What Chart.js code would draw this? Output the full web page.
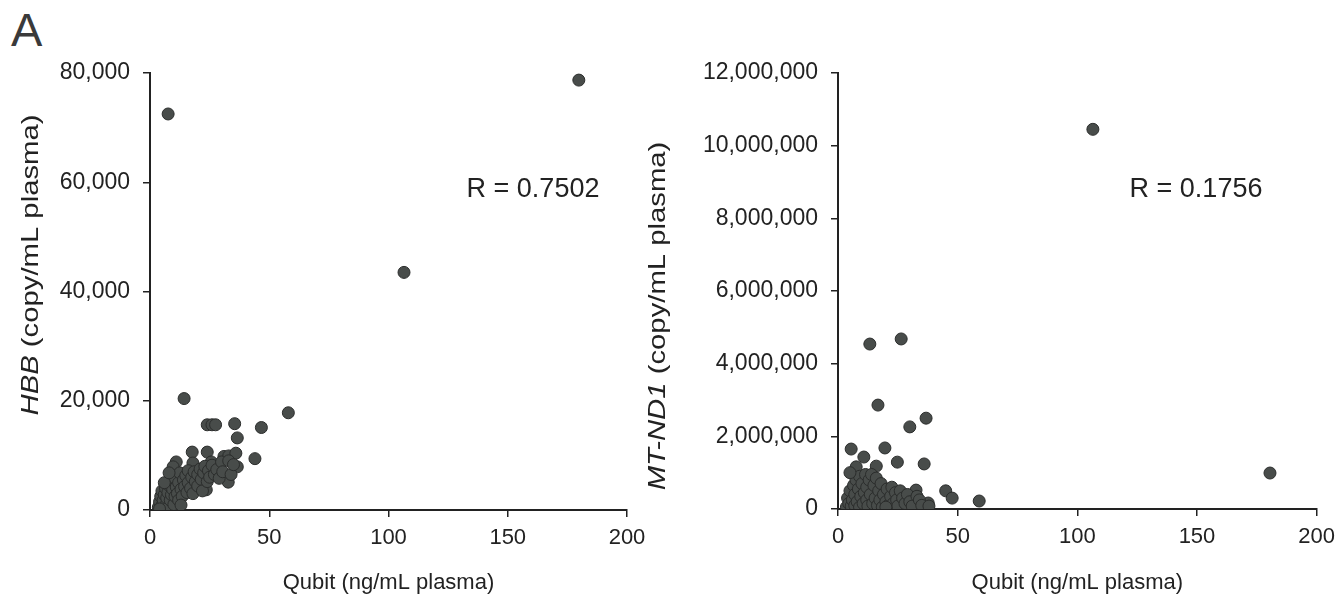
<!DOCTYPE html>
<html>
<head>
<meta charset="utf-8">
<script src="https://cdn.jsdelivr.net/npm/chart.js@4"></script>
<style>
  body { margin: 0; background: #fff; width: 1343px; height: 601px; overflow: hidden; position: relative; font-family: "Liberation Sans", Arial, sans-serif; }
  .box { position: absolute; top: 0; height: 601px; }
  #panelA { position: absolute; left: 11px; top: 2px; font-size: 47px; color: #3a3a3a; }
</style>
</head>
<body>
<div id="panelA">A</div>
<div class="box" style="left:0;width:671px"><canvas id="hbbChart"></canvas></div>
<div class="box" style="left:630px;width:713px"><canvas id="nd1Chart"></canvas></div>
<script>
// vasen paneeli: Qubit vs HBB
const hbbQubit = [7.6, 179.8, 106.5, 14.3, 58, 24, 26, 27.5, 35.5, 46.7, 36.6, 17.7, 24, 31, 33, 36, 44, 36.6, 11, 9.7, 18, 25.7, 27.4, 32.8, 23.6,
  3.5, 4, 4.5, 5, 5, 5.5, 6, 6, 6.5, 7, 7, 7.5, 8, 8, 8.5, 9, 9, 9.5, 10, 10, 10.5, 11, 11.5, 12, 12, 12.5, 13, 13.5, 14, 14.5,
  15, 15.5, 16, 16, 17, 17.5, 18, 18.5, 19, 20, 20, 21, 21.5, 22, 22.5, 23, 24, 24.5, 25, 26, 27, 28, 29, 30, 30.5, 33, 34, 35, 6, 8, 4, 13];
const hbbCopies = [72500, 78700, 43500, 20400, 17800, 15600, 15600, 15600, 15800, 15100, 13200, 10600, 10600, 9800, 9900, 10400, 9400, 7900, 8800, 7900, 8600, 8800, 7900, 5100, 3700,
  500, 1500, 2500, 800, 3500, 1800, 300, 2800, 4000, 1200, 2200, 3200, 600, 4500, 1800, 2800, 5200, 3800, 1000, 6000, 2500, 4200, 3000, 5000, 1800, 6800, 3800, 2500, 5500, 4300,
  6300, 3200, 7200, 5000, 4000, 6000, 3000, 7000, 5200, 4400, 6500, 7500, 5600, 3500, 6800, 8000, 5200, 7200, 6000, 8200, 6500, 7400, 5800, 8800, 7000, 9000, 6500, 8300, 5000, 6800, 200, 900];

// oikea paneeli: Qubit vs MT-ND1
const nd1Qubit = [13.3, 26.4, 16.7, 36.8, 30, 5.5, 19.6, 10.8, 24.8, 36, 7.6, 16, 45, 47.7, 59, 37.7, 32.6, 106.5, 180.5,
  3.5, 4, 4.5, 5, 5.5, 6, 6.5, 7, 7, 7.5, 8, 8.5, 9, 9, 9.5, 10, 10.5, 11, 11.5, 12, 12, 12.5, 13, 13.5, 14, 14.5, 15, 15.5,
  16, 16.5, 17, 17.5, 18, 18.5, 19, 20, 20.5, 21, 22, 22.5, 23, 24, 24.5, 25, 26, 27, 28, 29, 30, 31, 33, 34, 35, 38, 5, 20];
const nd1Copies = [4540000, 4680000, 2860000, 2500000, 2260000, 1650000, 1680000, 1430000, 1290000, 1240000, 1160000, 1180000, 500000, 300000, 220000, 165000, 520000, 10450000, 990000,
  50000, 300000, 150000, 500000, 80000, 250000, 650000, 400000, 100000, 800000, 200000, 550000, 50000, 900000, 350000, 700000, 150000, 450000, 950000, 250000, 600000, 80000, 800000, 400000, 950000, 150000, 650000, 300000,
  850000, 100000, 500000, 250000, 700000, 50000, 400000, 200000, 550000, 100000, 350000, 600000, 150000, 450000, 250000, 80000, 500000, 300000, 150000, 400000, 200000, 80000, 350000, 250000, 100000, 80000, 1000000, 50000];

const xTicks = [0, 50, 100, 150, 200];
const hbbTicks = [0, 20000, 40000, 60000, 80000];
const nd1Ticks = [0, 2000000, 4000000, 6000000, 8000000, 10000000, 12000000];

const FONT = '"Liberation Sans", Arial, sans-serif';
const INK = '#222';

function pisteet(xs, ys) {
  return xs.map((x, i) => ({ x: x, y: ys[i] }));
}

// akselien otsikot piirretään itse, koska geenin nimi on kursiivilla
function otsikkoPlugin(geeni, rVal, tx, ty, rX) {
  return {
    id: 'otsikot',
    afterDraw(c) {
      const ctx = c.ctx;
      const a = c.chartArea;
      ctx.save();
      ctx.fillStyle = INK;
      ctx.textBaseline = 'middle';
      // x-otsikko
      ctx.font = '22px ' + FONT;
      ctx.textAlign = 'center';
      ctx.fillText('Qubit (ng/mL plasma)', (a.left + a.right) / 2, 583);
      // R-arvo
      ctx.font = '27px ' + FONT;
      ctx.fillText('R = ' + rVal, rX, 190);
      // y-otsikko (alkuperäisessä hieman venytetty pystysuunnassa)
      ctx.translate(tx, ty);
      ctx.rotate(-Math.PI / 2);
      ctx.scale(1.22, 1);
      const it = 'italic 24px ' + FONT, nr = '24px ' + FONT;
      const loppu = ' (copy/mL plasma)';
      ctx.font = it; const w1 = ctx.measureText(geeni).width;
      ctx.font = nr; const w2 = ctx.measureText(loppu).width;
      const x0 = -(w1 + w2) / 2;
      ctx.textAlign = 'left';
      ctx.font = it; ctx.fillText(geeni, x0, 0);
      ctx.font = nr; ctx.fillText(loppu, x0 + w1, 0);
      ctx.restore();
    }
  };
}

function tee(id, xs, ys, yTicks, yMax, pad, yWidth, xHeight, geeni, rVal, tx, ty, rX) {
  return new Chart(document.getElementById(id), {
    type: 'scatter',
    data: {
      datasets: [{
        data: pisteet(xs, ys),
        pointRadius: 6,
        pointBackgroundColor: '#484c4a',
        pointBorderColor: '#2b2d2c',
        pointBorderWidth: 1
      }]
    },
    options: {
      responsive: true,
      maintainAspectRatio: false,
      animation: false,
      layout: { padding: pad },
      plugins: { legend: { display: false }, tooltip: { enabled: false } },
      scales: {
        x: {
          type: 'linear', min: 0, max: 200,
          afterBuildTicks: s => { s.ticks = xTicks.map(v => ({ value: v })); },
          afterFit: s => { s.height = xHeight; },
          ticks: { color: INK, font: { family: FONT, size: 22 }, padding: 8, maxRotation: 0 },
          grid: { drawOnChartArea: false, color: INK, lineWidth: 1.5, tickLength: 7 },
          border: { color: INK, width: 2 }
        },
        y: {
          type: 'linear', min: 0, max: yMax,
          afterBuildTicks: s => { s.ticks = yTicks.map(v => ({ value: v })); },
          afterFit: s => { s.width = yWidth; },
          ticks: { color: INK, font: { family: FONT, size: 23 }, padding: 13,
            callback: v => v.toLocaleString('en-US') },
          grid: { drawOnChartArea: false, color: INK, lineWidth: 1.5, tickLength: 7 },
          border: { color: INK, width: 2 }
        }
      }
    },
    plugins: [otsikkoPlugin(geeni, rVal, tx, ty, rX)]
  });
}

tee('hbbChart', hbbQubit, hbbCopies, hbbTicks, 80000,
  { left: 0, right: 44, top: 73, bottom: 0 }, 150, 91, 'HBB', '0.7502', 31, 265, 533);
tee('nd1Chart', nd1Qubit, nd1Copies, nd1Ticks, 12000000,
  { left: 0, right: 25, top: 73, bottom: 0 }, 208, 92, 'MT-ND1', '0.1756', 28, 316, 566);
</script>
</body>
</html>
